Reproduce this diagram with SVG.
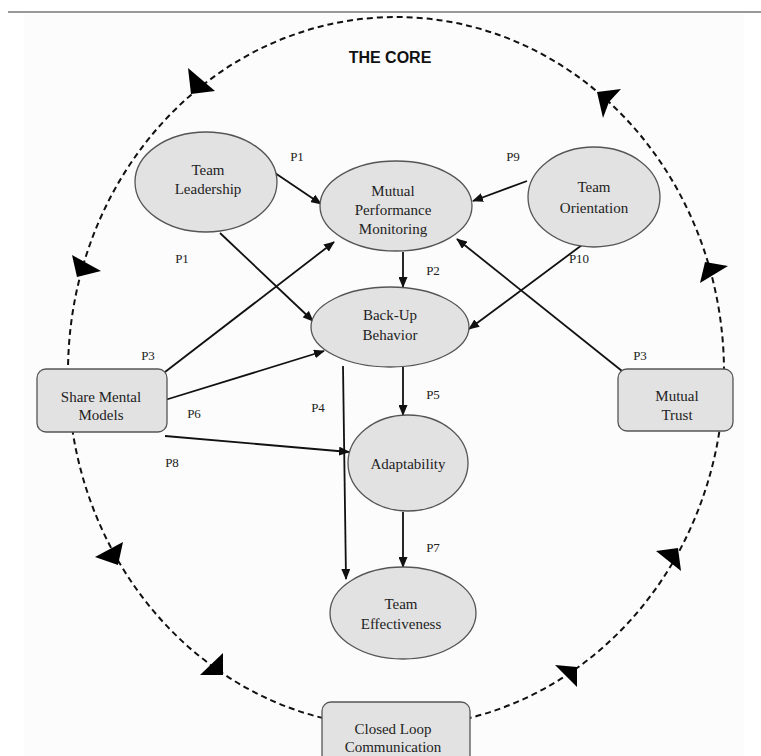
<svg xmlns="http://www.w3.org/2000/svg" width="761" height="756" viewBox="0 0 761 756">
<style>
.nd{fill:#e2e2e2;stroke:#555;stroke-width:1.3}
.t{font-family:"Liberation Serif","Times New Roman",serif;font-size:15px;fill:#222;text-anchor:middle}
.p{font-family:"Liberation Serif","Times New Roman",serif;font-size:13px;fill:#222;text-anchor:middle}
.ed{stroke:#111;stroke-width:1.8;fill:none;marker-end:url(#ah)}
.ah2{fill:#000}
</style>
<defs>
<marker id="ah" markerUnits="userSpaceOnUse" markerWidth="11" markerHeight="9" refX="10" refY="4.5" orient="auto">
<path d="M0,0 L11,4.5 L0,9 z" fill="#111"/>
</marker>
</defs>
<rect x="0" y="0" width="761" height="756" fill="#fff"/>
<rect x="24" y="14" width="720" height="742" fill="#fcfcfc"/>
<line x1="8" y1="12" x2="761" y2="12" stroke="#777" stroke-width="1.6"/>
<g id="loop">
<ellipse cx="396" cy="372" rx="328" ry="355" fill="none" stroke="#111" stroke-width="2" stroke-dasharray="6 4"/>
<polygon class="ah2" points="188,68 215,91 191,94"/>
<polygon class="ah2" points="597,92 621,89 609,102 603,118"/>
<polygon class="ah2" points="72,255 101,271 77,277"/>
<polygon class="ah2" points="705,262 728,266 700,283"/>
<polygon class="ah2" points="95,557 123,542 118,565"/>
<polygon class="ah2" points="200,675 223,653 223,675"/>
<polygon class="ah2" points="656,551 678,548 681,571"/>
<polygon class="ah2" points="555,665 577,667 577,687"/>
</g>
<text x="390" y="63" font-family="Liberation Sans,Arial,sans-serif" font-size="16" font-weight="bold" text-anchor="middle" fill="#111">THE CORE</text>
<g id="connectors">
<line class="ed" x1="275" y1="173" x2="321" y2="204"/>
<line class="ed" x1="220" y1="233" x2="313" y2="321"/>
<line class="ed" x1="165" y1="372" x2="334" y2="242"/>
<line class="ed" x1="165" y1="400" x2="324" y2="351"/>
<line class="ed" x1="165" y1="436" x2="349" y2="452"/>
<line class="ed" x1="403" y1="252" x2="403" y2="287"/>
<line class="ed" x1="527" y1="181" x2="473" y2="201"/>
<line class="ed" x1="582" y1="245" x2="469" y2="329"/>
<line class="ed" x1="622" y1="371" x2="457" y2="239"/>
<line class="ed" x1="403" y1="367" x2="403" y2="415"/>
<line class="ed" x1="343" y1="366" x2="346" y2="579"/>
<line class="ed" x1="403" y1="512" x2="403" y2="567"/>
</g>
<g id="labels">
<text class="p" x="297" y="161">P1</text>
<text class="p" x="182" y="263">P1</text>
<text class="p" x="433" y="275">P2</text>
<text class="p" x="513" y="161">P9</text>
<text class="p" x="579" y="263">P10</text>
<text class="p" x="148" y="360">P3</text>
<text class="p" x="194" y="418">P6</text>
<text class="p" x="172" y="467">P8</text>
<text class="p" x="318" y="412">P4</text>
<text class="p" x="433" y="399">P5</text>
<text class="p" x="640" y="360">P3</text>
<text class="p" x="433" y="552">P7</text>
</g>
<g id="team-leadership">
<ellipse class="nd" cx="206" cy="182" rx="71" ry="50"/>
<text class="t" x="208" y="175">Team</text>
<text class="t" x="208" y="194">Leadership</text>
</g>
<g id="mutual-performance-monitoring">
<ellipse class="nd" cx="396" cy="206" rx="76" ry="45"/>
<text class="t" x="393" y="196">Mutual</text>
<text class="t" x="393" y="215">Performance</text>
<text class="t" x="393" y="234">Monitoring</text>
</g>
<g id="team-orientation">
<ellipse class="nd" cx="594" cy="197" rx="66" ry="50"/>
<text class="t" x="594" y="192">Team</text>
<text class="t" x="594" y="213">Orientation</text>
</g>
<g id="back-up-behavior">
<ellipse class="nd" cx="390" cy="327" rx="79" ry="40"/>
<text class="t" x="390" y="320">Back-Up</text>
<text class="t" x="390" y="340">Behavior</text>
</g>
<g id="adaptability">
<ellipse class="nd" cx="408" cy="463" rx="60" ry="48"/>
<text class="t" x="408" y="469">Adaptability</text>
</g>
<g id="team-effectiveness">
<ellipse class="nd" cx="403" cy="613" rx="73" ry="46"/>
<text class="t" x="401" y="609">Team</text>
<text class="t" x="401" y="629">Effectiveness</text>
</g>
<g id="share-mental-models">
<rect class="nd" x="37" y="369" width="130" height="63" rx="9"/>
<text class="t" x="101" y="402">Share Mental</text>
<text class="t" x="101" y="420">Models</text>
</g>
<g id="mutual-trust">
<rect class="nd" x="618" y="369" width="115" height="62" rx="9"/>
<text class="t" x="677" y="401">Mutual</text>
<text class="t" x="677" y="420">Trust</text>
</g>
<g id="closed-loop-communication">
<rect class="nd" x="322" y="702" width="148" height="70" rx="9"/>
<text class="t" x="393" y="734">Closed Loop</text>
<text class="t" x="393" y="752">Communication</text>
</g>
</svg>
